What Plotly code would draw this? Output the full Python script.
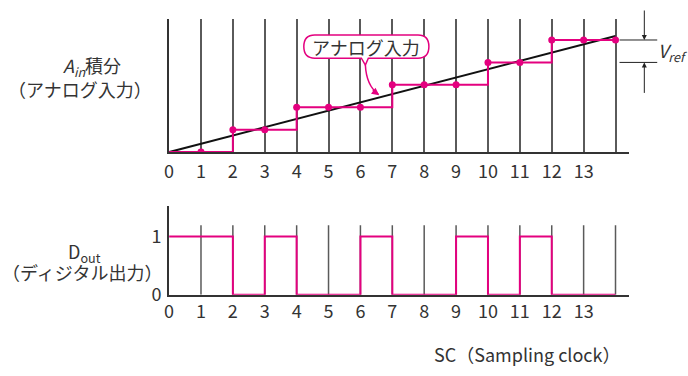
import plotly.graph_objects as go

# ---- data ----
clock = list(range(0, 15))                       # sampling clock index 0..14
tick_labels = [str(i) for i in range(14)] + [""]
integ_levels = [0, 0, 1, 1, 2, 2, 2, 3, 3, 3, 4, 4, 5, 5, 5]   # staircase (pink) in Vref units
analog_x = [0, 14]
analog_y = [0, 5.18]                             # analog input integral (black ramp)
dout = [1, 1, 0, 1, 0, 0, 1, 0, 0, 1, 0, 1, 0, 0, 0]          # digital output per clock
dot_x = clock[1:]
dot_y = integ_levels[1:]

PINK = "#e4007f"
DARK = "#333333"
GRID = "#5a5a5a"
FONT = "Noto Sans CJK JP"
W, H = 688, 376


def px(x):
    return x / W


def py(y):
    return 1 - y / H


fig = go.Figure()

# top panel
fig.add_trace(go.Scatter(x=analog_x, y=analog_y, mode="lines",
                         line=dict(color="#111111", width=2), xaxis="x", yaxis="y"))
fig.add_trace(go.Scatter(x=clock, y=integ_levels, mode="lines",
                         line=dict(color=PINK, width=2, shape="hv"), xaxis="x", yaxis="y"))
fig.add_trace(go.Scatter(x=dot_x, y=dot_y, mode="markers",
                         marker=dict(color=PINK, size=7), xaxis="x", yaxis="y"))

# bottom panel
fig.add_trace(go.Scatter(x=clock, y=dout, mode="lines",
                         line=dict(color=PINK, width=2, shape="hv"), xaxis="x2", yaxis="y2"))

shapes = []
# bottom panel grid lines (shorter than the panel)
for c in clock[1:]:
    shapes.append(dict(type="line", xref="x2", yref="y2", x0=c, x1=c, y0=0, y1=1.195,
                       line=dict(color=GRID, width=1.5), layer="below"))


def pth(cmds):
    out = []
    for c in cmds:
        if isinstance(c, str):
            out.append(c)
        else:
            out.append(f"{px(c[0]):.5f},{py(c[1]):.5f}")
    return " ".join(out)


# callout bubble
bubble = pth(["M", (312, 36), "L", (416, 36), "Q", (427, 36), (427, 48), "Q", (427, 60), (416, 60),
              "L", (366, 60), "L", (363, 67), "L", (359, 60), "L", (312, 60),
              "Q", (301, 60), (301, 48), "Q", (301, 36), (312, 36), "Z"])
shapes.append(dict(type="path", xref="paper", yref="paper", path=bubble,
                   fillcolor="white", line=dict(color=PINK, width=1.5)))
curve = pth(["M", (363, 67), "Q", (364, 88), (376, 97)])
shapes.append(dict(type="path", xref="paper", yref="paper", path=curve,
                   line=dict(color=PINK, width=1.5)))

# Vref marker lines
for lvl in (5, 4):
    shapes.append(dict(type="line", xref="paper", yref="y", x0=px(619), x1=px(657), y0=lvl, y1=lvl,
                       line=dict(color="#222222", width=1)))


def label(x, y, text, size=18):
    return dict(x=px(x), y=py(y), xref="paper", yref="paper", text=text, showarrow=False,
                xanchor="center", yanchor="middle",
                font=dict(size=size, color=DARK, family=FONT))


annotations = [
    dict(x=px(377), y=py(98), xref="paper", yref="paper", text="", showarrow=True,
         ax=-8, ay=-6, arrowhead=2, arrowsize=1, arrowwidth=1.5, arrowcolor=PINK),
    label(364, 48, "アナログ入力"),
    dict(x=px(644), y=5, xref="paper", yref="y", text="", showarrow=True,
         ax=0, ay=-31, arrowhead=2, arrowsize=1, arrowwidth=1, arrowcolor="#222222"),
    dict(x=px(644), y=4, xref="paper", yref="y", text="", showarrow=True,
         ax=0, ay=32, arrowhead=2, arrowsize=1, arrowwidth=1, arrowcolor="#222222"),
    label(672, 53, "<i>V<sub>ref</sub></i>"),
    label(88, 69, "<i>A<sub>in</sub></i>積分"),
    label(76, 92, "（アナログ入力）"),
    label(80, 260, "D<sub>out</sub>"),
    label(78, 280, "（ディジタル出力）"),
    label(526, 365, "SC（Sampling clock）"),
]

xdom = [px(165.3), px(629)]
xrng = [0, (629 - 165.3) / 32.12]
axis_common = dict(showline=True, linecolor=DARK, linewidth=2, zeroline=False,
                   ticks="", tickfont=dict(size=18, color=DARK, family=FONT), layer="below traces")

fig.update_layout(
    width=W, height=H, autosize=False,
    margin=dict(l=0, r=0, t=0, b=0),
    paper_bgcolor="white", plot_bgcolor="white",
    showlegend=False,
    xaxis=dict(domain=xdom, range=xrng, anchor="y", tickvals=clock, ticktext=tick_labels,
               showgrid=True, gridcolor=GRID, gridwidth=1.5, ticklabelstandoff=2, **axis_common),
    yaxis=dict(domain=[py(156.7), py(20)], range=[0, (156.7 - 20) / 23.1], anchor="x",
               showgrid=False, showticklabels=False, **axis_common),
    xaxis2=dict(domain=xdom, range=xrng, anchor="y2", tickvals=clock, ticktext=tick_labels,
                showgrid=False, ticklabelstandoff=0, **axis_common),
    yaxis2=dict(domain=[py(303.7), py(212.7)], range=[0, 91 / 60], anchor="x2",
                tickvals=[0, 1], ticktext=["0", "1"], showgrid=False, ticklabelstandoff=2,
                **axis_common),
    shapes=shapes,
    annotations=annotations,
)

post = ("document.body.style.margin='0';"
        "var d=document.getElementById('{plot_id}');"
        "d.style.position='absolute';d.style.top='0';d.style.left='0';")
fig.write_html("out.html", config={"displayModeBar": False}, post_script=post)
